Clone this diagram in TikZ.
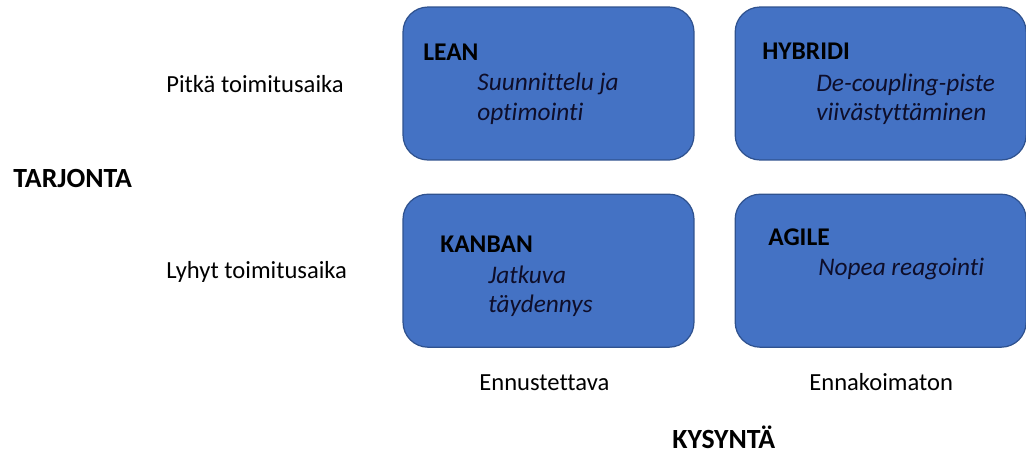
\documentclass[tikz,border=0pt]{standalone}
\usepackage{fontspec}
\setmainfont{Carlito}[Ligatures=NoCommon]
\usetikzlibrary{positioning}
\definecolor{qblue}{RGB}{68,114,196}
\definecolor{qedge}{RGB}{47,82,143}
\definecolor{qink}{RGB}{14,14,42}

\begin{document}
\begin{tikzpicture}[
  x=0.02cm, y=-0.02cm,
  quad/.style={fill=qblue,draw=qedge,line width=0.7pt,rounded corners=0.5cm,
    minimum width=5.82cm,minimum height=3.06cm,inner sep=0pt},
  qtitle/.style={anchor=base west,inner sep=0pt,font=\fontsize{14.5}{16}\selectfont\bfseries},
  qtext/.style={anchor=base west,inner sep=0pt,text=qink,font=\fontsize{14.4}{16}\selectfont\itshape},
  axis/.style={anchor=base west,inner sep=0pt,font=\fontsize{14}{16}\selectfont},
  axtitle/.style={anchor=base west,inner sep=0pt,font=\fontsize{15.8}{18}\selectfont\bfseries}
]
\useasboundingbox (0,0) rectangle (1026,454);

\node[quad] (lean) at (548.5,83.5) {};
\node[quad,right=0.8cm of lean] (hybridi) {};
\node[quad,below=0.66cm of lean] (kanban) {};
\node[quad,below=0.66cm of hybridi] (agile) {};

\node[qtitle] (leanT) at (423,60) {LEAN};
\node[qtext] (leanA) at (477,90) {Suunnittelu ja};
\node[qtext] (leanB) at (477,120) {optimointi};

\node[qtitle] (hybridiT) at (762,59) {HYBRIDI};
\node[qtext] (hybridiA) at (816,91) {De-coupling-piste};
\node[qtext] (hybridiB) at (816,120) {viivästyttäminen};

\node[qtitle] (kanbanT) at (440,252) {KANBAN};
\node[qtext] (kanbanA) at (488,283) {Jatkuva};
\node[qtext] (kanbanB) at (488,312) {täydennys};

\node[qtitle] (agileT) at (768,245) {AGILE};
\node[qtext] (agileA) at (818,275) {Nopea reagointi};

% tarjonta-akseli
\node[axis] (pitka) at (166,92) {Pitkä toimitusaika};
\node[axis] (lyhyt) at (166,278) {Lyhyt toimitusaika};
\node[axtitle] (tarjonta) at (13,187) {TARJONTA};

% kysyntä-akseli
\node[axis] (ennust) at (479,390) {Ennustettava};
\node[axis] (ennak) at (809,390) {Ennakoimaton};
\node[axtitle] (kysynta) at (672,448) {KYSYNTÄ};
\end{tikzpicture}
\end{document}
